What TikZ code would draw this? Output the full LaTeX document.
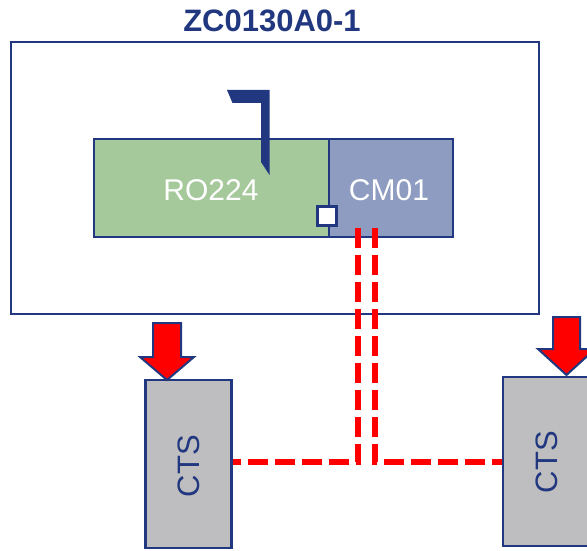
\documentclass[tikz,border=0pt]{standalone}
\usepackage{fontspec}
\setmainfont{Liberation Sans}
\definecolor{dblue}{RGB}{33,56,128}
\definecolor{rogreen}{RGB}{166,201,156}
\definecolor{cmblue}{RGB}{143,156,194}
\definecolor{ctsgray}{RGB}{190,190,192}
\definecolor{dred}{RGB}{255,0,0}
\tikzset{
  blk/.style={draw=dblue, line width=2.2pt, rectangle, inner sep=0pt, text=white, font=\fontsize{30}{30}\selectfont},
  ctsbox/.style={draw=dblue, line width=2.2pt, fill=ctsgray, rectangle, inner sep=0pt, minimum width=86pt, text=dblue},
  ctstext/.style={text=dblue, rotate=90, font=\fontsize{31}{31}\selectfont},
  reddash/.style={draw=dred, line width=6pt, dash pattern=on 20pt off 7pt},
  downarrow/.style={draw=dblue, line width=2pt, fill=dred, line join=miter},
}
\begin{document}
\begin{tikzpicture}[x=1pt,y=-1pt]
\useasboundingbox (0,0) rectangle (587,551);
\clip (0,0) rectangle (587,551);
% title
\node[text=dblue, font=\bfseries\fontsize{31}{31}\selectfont] (title) at (272,21) {ZC0130A0-1};
% outer box
\node[draw=dblue, line width=2pt, rectangle, minimum width=528pt, minimum height=272pt, inner sep=0pt] (outer) at (274.5,178) {};
% RO224 and CM01
\node[blk, fill=rogreen, minimum width=235pt, minimum height=98pt] (ro) at (211.5,188) {};
\node[blk, fill=cmblue, minimum width=124pt, minimum height=98pt] (cm) at (391,188) {};
\node[text=white, font=\fontsize{30}{30}\selectfont] (rolabel) at (211,190) {RO224};
\node[text=white, font=\fontsize{30}{30}\selectfont] (cmlabel) at (389,190) {CM01};
% flag
\fill[dblue] (227,90) -- (269.5,90) -- (269.5,175) -- (261,162) -- (261,103) -- (232.5,103) -- cycle;
% small port square
\node[draw=dblue, line width=2.2pt, fill=white, rectangle, minimum size=19pt, inner sep=0pt] (port) at (327,216) {};
% CTS boxes
\node[ctsbox, minimum height=168pt] (ctsL) at (188.5,464) {};
\node[ctstext] (ctsLt) at (189,466) {CTS};
\node[ctsbox, minimum height=169pt] (ctsR) at (546,461.5) {};
\node[ctstext] (ctsRt) at (547,462) {CTS};
% dashed connectors
\coordinate (pL) at (358,228);
\coordinate (pR) at (375,228);
\draw[reddash] (pL) -- (358,462) -- (ctsL.east |- 0,462);
\draw[reddash] (pR) -- (375,462) -- (ctsR.west |- 0,462);
% arrows
\draw[downarrow] (153,323) -- (181,323) -- (181,357) -- (194,357) -- (167,380) -- (140,357) -- (153,357) -- cycle;
\draw[downarrow] (553,317) -- (580,317) -- (580,349) -- (595,349) -- (566.5,375) -- (538,349) -- (553,349) -- cycle;
\end{tikzpicture}
\end{document}
